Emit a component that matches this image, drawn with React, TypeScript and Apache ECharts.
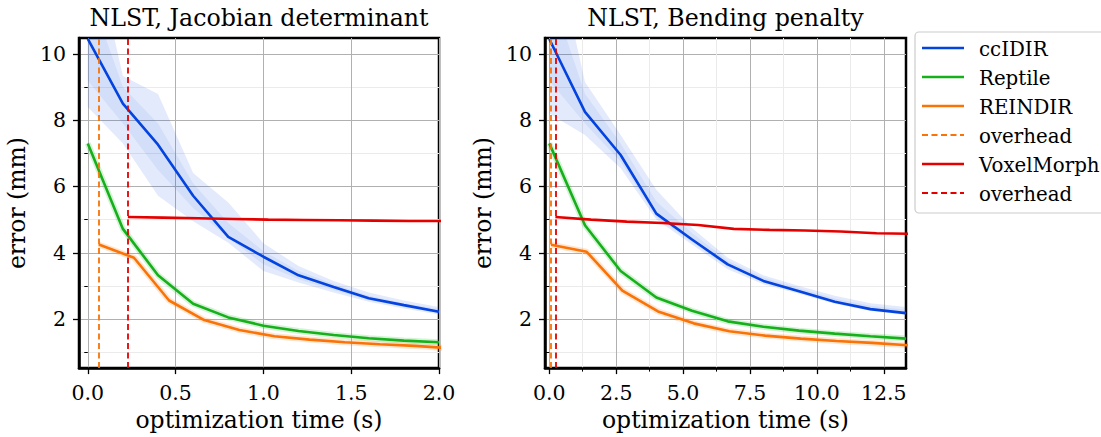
import React, { useEffect, useRef } from "react";
import * as echarts from "echarts";

const FONT = "DejaVu Serif";
const C_BLUE = "#0343df";
const C_GREEN = "#15b01a";
const C_ORANGE = "#f97306";
const C_RED = "#e50000";
const BAND = "rgba(3,67,223,0.11)";
const BAND2 = "rgba(3,67,223,0.07)";

// ---------- Left panel: NLST, Jacobian determinant ----------
const ccX_L = [0, 0.2, 0.4, 0.6, 0.8, 1.0, 1.2, 1.4, 1.6, 1.8, 2.0];
const ccY_L = [10.45, 8.5, 7.26, 5.72, 4.48, 3.88, 3.32, 2.97, 2.63, 2.42, 2.22];
const ccHi_L = [14, 9.33, 8.79, 6.41, 5.52, 4.29, 3.6, 3.15, 2.8, 2.56, 2.36];
const ccLo_L = [8.4, 7.3, 5.72, 4.95, 4.3, 3.45, 3.1, 2.8, 2.52, 2.32, 2.14];
const ccMidHi_L = [12, 9.0, 7.9, 6.1, 4.9, 4.05, 3.45, 3.06, 2.7, 2.48, 2.3];
const ccMidLo_L = [9.2, 7.9, 6.5, 5.35, 4.45, 3.65, 3.2, 2.88, 2.57, 2.36, 2.17];
const repX_L = [0, 0.2, 0.4, 0.6, 0.8, 1.0, 1.2, 1.4, 1.6, 1.8, 2.0];
const repY_L = [7.3, 4.72, 3.32, 2.46, 2.05, 1.8, 1.64, 1.52, 1.42, 1.35, 1.3];
const reiX_L = [0.063, 0.263, 0.463, 0.663, 0.863, 1.063, 1.263, 1.463, 1.663, 1.863, 2.063];
const reiY_L = [4.25, 3.85, 2.56, 1.97, 1.67, 1.48, 1.38, 1.3, 1.24, 1.19, 1.12];
const vmX_L = [0.228, 0.428, 0.628, 0.828, 1.028, 1.228, 1.428, 1.628, 1.828, 2.028];
const vmY_L = [5.08, 5.06, 5.04, 5.02, 5.0, 4.99, 4.98, 4.97, 4.96, 4.96];
const overheadREINDIR = 0.063;
const overheadVoxelMorph = 0.228;

// ---------- Right panel: NLST, Bending penalty ----------
const ccX_R = [0, 1.333, 2.667, 4.0, 5.333, 6.667, 8.0, 9.333, 10.667, 12.0, 13.333];
const ccY_R = [10.45, 8.25, 6.95, 5.18, 4.4, 3.65, 3.15, 2.84, 2.52, 2.3, 2.18];
const ccHi_R = [14, 9.15, 7.55, 5.9, 4.75, 3.85, 3.32, 3.0, 2.7, 2.48, 2.36];
const ccLo_R = [8.2, 7.55, 6.55, 5.0, 4.25, 3.5, 3.05, 2.76, 2.46, 2.24, 2.12];
const ccMidHi_R = [12, 8.8, 7.3, 5.55, 4.6, 3.76, 3.25, 2.93, 2.62, 2.4, 2.28];
const ccMidLo_R = [9.2, 7.9, 6.75, 5.08, 4.32, 3.58, 3.1, 2.8, 2.49, 2.27, 2.15];
const repX_R = [0, 1.333, 2.667, 4.0, 5.333, 6.667, 8.0, 9.333, 10.667, 12.0, 13.333];
const repY_R = [7.3, 4.83, 3.45, 2.65, 2.25, 1.93, 1.77, 1.65, 1.56, 1.48, 1.41];
const reiX_R = [0.063, 1.396, 2.73, 4.063, 5.396, 6.73, 8.063, 9.396, 10.73, 12.063, 13.396];
const reiY_R = [4.24, 4.03, 2.86, 2.23, 1.87, 1.63, 1.5, 1.41, 1.34, 1.28, 1.21];
const vmX_R = [0.228, 1.561, 2.895, 4.228, 5.561, 6.895, 8.228, 9.561, 10.895, 12.228, 13.561];
const vmY_R = [5.08, 5.0, 4.94, 4.9, 4.84, 4.72, 4.69, 4.67, 4.64, 4.59, 4.57];

// ---------- Axes ticks ----------
const xTicks_L = [0, 0.5, 1.0, 1.5, 2.0];
const xTicks_R = [0, 2.5, 5.0, 7.5, 10.0, 12.5];
const xMinor_R = [1.25, 3.75, 6.25, 8.75, 11.25];
const yTicks = [2, 4, 6, 8, 10];
const yMinor = [1, 3, 5, 7, 9];

const titles = ["NLST, Jacobian determinant", "NLST, Bending penalty"];
const legendItems = [
  { name: "ccIDIR", color: C_BLUE, dashed: false },
  { name: "Reptile", color: C_GREEN, dashed: false },
  { name: "REINDIR", color: C_ORANGE, dashed: false },
  { name: "overhead", color: C_ORANGE, dashed: true },
  { name: "VoxelMorph", color: C_RED, dashed: false },
  { name: "overhead", color: C_RED, dashed: true },
];

const zip = (xs: number[], ys: number[]) => xs.map((x, i) => [x, ys[i]]);

function band(xs: number[], lo: number[], hi: number[], idx: number, fill: string) {
  return {
    type: "custom",
    xAxisIndex: idx,
    yAxisIndex: idx,
    clip: true,
    silent: true,
    z: 1,
    data: xs.map((x, i) => [x, lo[i], hi[i]]),
    encode: { x: 0, y: [1, 2] },
    renderItem: (params: any, api: any) => {
      if (params.dataIndex !== 0) return;
      const top = xs.map((x, i) => api.coord([x, hi[i]]));
      const bot = xs.map((x, i) => api.coord([x, lo[i]])).reverse();
      return {
        type: "polygon",
        shape: { points: top.concat(bot) },
        style: { fill, stroke: "none" },
      };
    },
  };
}

function line(xs: number[], ys: number[], idx: number, color: string, extra: any = {}) {
  return {
    type: "line",
    xAxisIndex: idx,
    yAxisIndex: idx,
    data: zip(xs, ys),
    showSymbol: false,
    symbol: "none",
    silent: true,
    clip: true,
    lineStyle: { color, width: 2.6 },
    z: 3,
    ...extra,
  };
}

function glow(xs: number[], ys: number[], idx: number, color: string) {
  return {
    type: "line",
    xAxisIndex: idx,
    yAxisIndex: idx,
    data: zip(xs, ys),
    showSymbol: false,
    symbol: "none",
    silent: true,
    clip: true,
    lineStyle: { color, width: 6, opacity: 0.18 },
    z: 2,
  };
}

function vline(x: number, color: string) {
  return {
    symbol: ["none", "none"],
    silent: true,
    label: { show: false },
    lineStyle: { color, type: [6, 3.5], width: 1.8 },
    data: [{ xAxis: x }],
  };
}

const tickLabelStyle = { fontFamily: FONT, fontSize: 20.5, color: "#000" };
const nameStyle = { fontFamily: FONT, fontSize: 23.5, color: "#000" };

function mainX(grid: number, min: number, max: number, ticks: number[]) {
  return {
    type: "value",
    gridIndex: grid,
    position: "bottom",
    min,
    max,
    name: "optimization time (s)",
    nameLocation: "middle",
    nameGap: 37,
    nameTextStyle: nameStyle,
    axisLine: { show: true, onZero: false, lineStyle: { color: "#000", width: 2.5 } },
    axisTick: { show: true, inside: false, length: 6, customValues: ticks, lineStyle: { color: "#000", width: 1.3 } },
    axisLabel: { customValues: ticks, formatter: (v: number) => v.toFixed(1), margin: 14, ...tickLabelStyle },
    splitLine: { show: true, lineStyle: { color: "#b0b0b0", width: 1 } },
  };
}

function minorX(grid: number, min: number, max: number, ticks: number[]) {
  return {
    type: "value",
    gridIndex: grid,
    position: "bottom",
    min,
    max,
    axisLine: { show: false },
    axisTick: { show: true, inside: false, length: 3.5, customValues: ticks, lineStyle: { color: "#000", width: 1 } },
    axisLabel: { show: false, customValues: ticks },
    splitLine: { show: true, lineStyle: { color: "#ebebeb", width: 1 } },
  };
}

function mainY(grid: number) {
  return {
    type: "value",
    gridIndex: grid,
    position: "left",
    min: 0.52,
    max: 10.48,
    name: "error (mm)",
    nameLocation: "middle",
    nameGap: 50,
    nameTextStyle: nameStyle,
    axisLine: { show: true, onZero: false, lineStyle: { color: "#000", width: 2.5 } },
    axisTick: { show: true, inside: false, length: 6, customValues: yTicks, lineStyle: { color: "#000", width: 1.3 } },
    axisLabel: { customValues: yTicks, margin: 13, ...tickLabelStyle },
    splitLine: { show: true, lineStyle: { color: "#b0b0b0", width: 1 } },
  };
}

function minorY(grid: number) {
  return {
    type: "value",
    gridIndex: grid,
    position: "left",
    min: 0.52,
    max: 10.48,
    axisLine: { show: false },
    axisTick: { show: true, inside: false, length: 3.5, customValues: yMinor, lineStyle: { color: "#000", width: 1 } },
    axisLabel: { show: false, customValues: yMinor },
    splitLine: { show: true, lineStyle: { color: "#ebebeb", width: 1 } },
  };
}

const LEG_X = 915;
const LEG_Y = 32;
const LEG_ROW0 = 48;
const LEG_STEP = 29;

function buildGraphics() {
  const g: any[] = [];
  g.push({
    type: "text",
    x: 259,
    y: 18,
    style: { text: titles[0], fontFamily: FONT, fontSize: 23.7, fill: "#000", textAlign: "center", textVerticalAlign: "middle" },
  });
  g.push({
    type: "text",
    x: 725.5,
    y: 18,
    style: { text: titles[1], fontFamily: FONT, fontSize: 23.7, fill: "#000", textAlign: "center", textVerticalAlign: "middle" },
  });
  g.push({
    type: "rect",
    shape: { x: LEG_X, y: LEG_Y, width: 200, height: 181, r: 4 },
    style: { fill: "#fff", stroke: "#cccccc", lineWidth: 1.2 },
  });
  legendItems.forEach((it, i) => {
    const y = LEG_ROW0 + i * LEG_STEP;
    g.push({
      type: "line",
      shape: { x1: 922, y1: y, x2: 964, y2: y },
      style: { stroke: it.color, lineWidth: it.dashed ? 1.8 : 2.6, lineDash: it.dashed ? [6, 3.5] : null },
    });
    g.push({
      type: "text",
      x: 979,
      y: y + 1,
      style: { text: it.name, fontFamily: FONT, fontSize: 19.8, fill: "#000", textAlign: "left", textVerticalAlign: "middle" },
    });
  });
  return g;
}

const gridBase = { top: 38, height: 335, show: true, borderColor: "#000", borderWidth: 2.5, backgroundColor: "transparent", containLabel: false };

const option: any = {
  animation: false,
  backgroundColor: "#fff",
  grid: [
    { ...gridBase, left: 79, width: 360 },
    { ...gridBase, left: 545, width: 361 },
  ],
  xAxis: [
    mainX(0, -0.05, 2.0, xTicks_L),
    mainX(1, -0.16, 13.33, xTicks_R),
    minorX(1, -0.16, 13.33, xMinor_R),
  ],
  yAxis: [mainY(0), mainY(1), minorY(0), minorY(1)],
  graphic: buildGraphics(),
  series: [
    // left
    band(ccX_L, ccLo_L, ccHi_L, 0, BAND),
    band(ccX_L, ccMidLo_L, ccMidHi_L, 0, BAND2),
    line(ccX_L, ccY_L, 0, C_BLUE),
    glow(repX_L, repY_L, 0, C_GREEN),
    line(repX_L, repY_L, 0, C_GREEN),
    glow(reiX_L, reiY_L, 0, C_ORANGE),
    line(reiX_L, reiY_L, 0, C_ORANGE, { markLine: vline(overheadREINDIR, C_ORANGE) }),
    line(vmX_L, vmY_L, 0, C_RED, { markLine: vline(overheadVoxelMorph, C_RED) }),
    // right
    band(ccX_R, ccLo_R, ccHi_R, 1, BAND),
    band(ccX_R, ccMidLo_R, ccMidHi_R, 1, BAND2),
    line(ccX_R, ccY_R, 1, C_BLUE),
    glow(repX_R, repY_R, 1, C_GREEN),
    line(repX_R, repY_R, 1, C_GREEN),
    glow(reiX_R, reiY_R, 1, C_ORANGE),
    line(reiX_R, reiY_R, 1, C_ORANGE, { markLine: vline(overheadREINDIR, C_ORANGE) }),
    line(vmX_R, vmY_R, 1, C_RED, { markLine: vline(overheadVoxelMorph, C_RED) }),
  ],
};

export default function App() {
  const ref = useRef<HTMLDivElement>(null);
  useEffect(() => {
    if (!ref.current) return;
    const chart = echarts.init(ref.current, null, { renderer: "svg" });
    chart.setOption(option);
    return () => chart.dispose();
  }, []);
  return (
    <div
      ref={ref}
      style={{ position: "fixed", left: 0, top: 0, width: 1101, height: 437, background: "#fff" }}
    />
  );
}
